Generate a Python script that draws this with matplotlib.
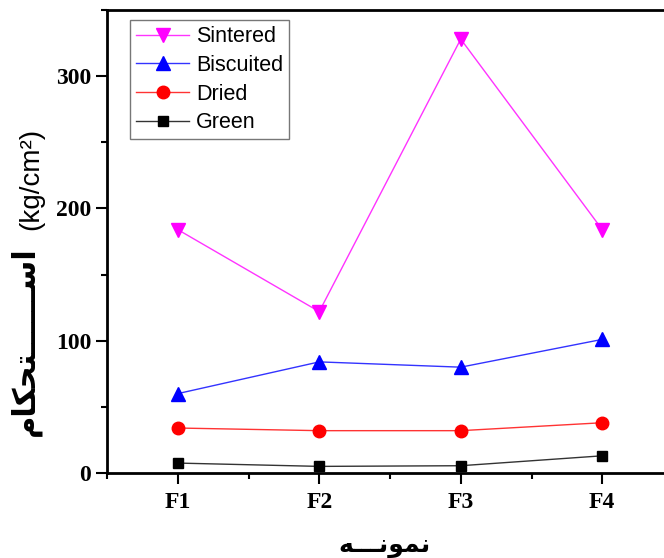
import numpy as np
import matplotlib
matplotlib.use('Agg')
import matplotlib.pyplot as plt
from matplotlib.ticker import MultipleLocator

# samples
samples = ['F1', 'F2', 'F3', 'F4']
sintered = [184, 122, 328, 184]
biscuited = [60, 84, 80, 101]
dried = [34, 32, 32, 38]
green = [7.5, 5, 5.5, 13]

# persian labels, pre-shaped (presentation forms, visual order)
ylabel_fa = '\uFEE1\uFE8E\uFB91\uFEA4\uFE98' + '\u0640' * 6 + '\uFEB3\uFE8D'   # استحکام
ylabel_unit = '(kg/cm\u00b2)'
xlabel_fa = '\uFEEA\u0640\u0640\u0640\uFEE7\uFEEE\uFEE4\uFEE7'              # نمونه

fig = plt.figure(figsize=(6.64, 5.58), dpi=100)
ax = fig.add_axes([107/664, 1-473/558, (673-107)/664, (473-10)/558])

x = np.arange(1, len(samples) + 1)
ax.plot(x, sintered, color='#ff33ff', lw=1, marker='v', ms=10, mfc='magenta', mec='magenta', label='Sintered')
ax.plot(x, biscuited, color='#3333ff', lw=1, marker='^', ms=10, mfc='blue', mec='blue', label='Biscuited')
ax.plot(x, dried, color='#ff3333', lw=1, marker='o', ms=9, mfc='red', mec='red', label='Dried')
ax.plot(x, green, color='#333333', lw=1, marker='s', ms=7, mfc='black', mec='black', label='Green')

ax.set_xlim(0.5, 4.5)
ax.set_ylim(0, 350)
ax.set_xticks(x)
ax.set_xticklabels(samples)
ax.xaxis.set_minor_locator(MultipleLocator(0.5))
ax.yaxis.set_major_locator(MultipleLocator(100))
ax.yaxis.set_minor_locator(MultipleLocator(50))

for sp in ax.spines.values():
    sp.set_linewidth(2)
ax.spines['right'].set_visible(False)
ax.tick_params(which='major', direction='out', length=8, width=1.5, top=False, right=False)
ax.tick_params(which='minor', direction='out', length=4, width=1.5, top=False, right=False)
for lab in ax.get_xticklabels() + ax.get_yticklabels():
    lab.set_fontfamily('Liberation Serif')
    lab.set_fontweight('bold')
    lab.set_fontsize(17)
ax.tick_params(axis='x', pad=6)

leg = ax.legend(loc='upper left', bbox_to_anchor=(0.04, 0.978), prop={'family': 'Liberation Sans', 'size': 15.5},
                frameon=True, fancybox=False, edgecolor='#555555', handlelength=2.5,
                labelspacing=0.36, borderpad=0.28, handletextpad=0.3, borderaxespad=0)
leg.get_frame().set_linewidth(1)

fig.text(25/664, 1-341/558, ylabel_fa, rotation=90, ha='center', va='center',
         family=['DejaVu Sans'], fontweight='bold', fontsize=22)
fig.text(31/664, 1-179/558, ylabel_unit, rotation=90, ha='center', va='center',
         family=['Liberation Sans'], fontsize=20)
fig.text(384/664, 1-546/558, xlabel_fa, ha='center', va='center',
         family=['DejaVu Sans'], fontweight='bold', fontsize=18)

fig.savefig('out.png', dpi=100)
